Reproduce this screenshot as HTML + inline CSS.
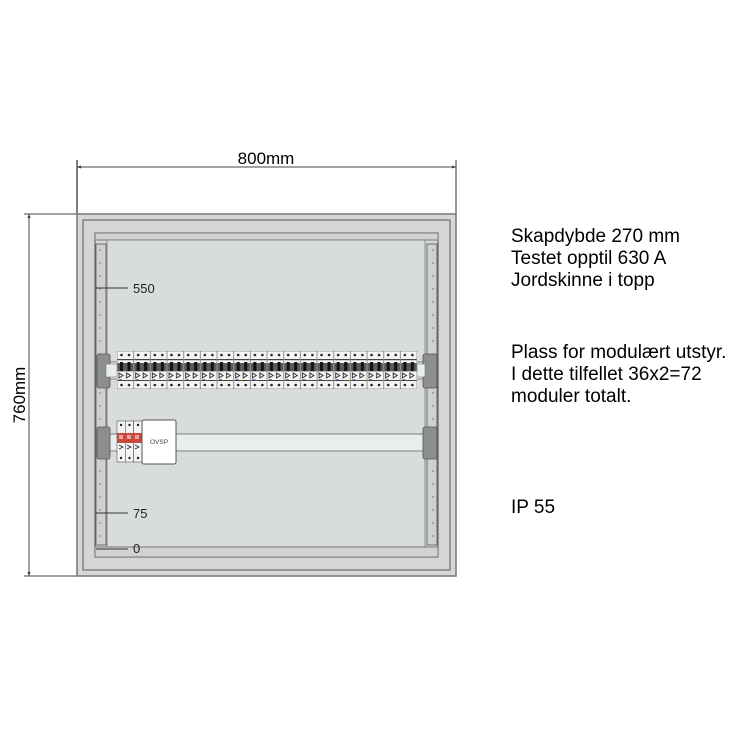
<!DOCTYPE html>
<html><head><meta charset="utf-8"><style>
html,body{margin:0;padding:0;background:#fff;width:750px;height:750px;overflow:hidden}
</style></head><body>
<svg width="750" height="750" viewBox="0 0 750 750" xmlns="http://www.w3.org/2000/svg" font-family="Liberation Sans, Arial, sans-serif">
<defs>
<pattern id="mod" x="117" y="351" width="16.67" height="38" patternUnits="userSpaceOnUse">
  <rect x="0" y="0" width="16.67" height="38" fill="#f4f4f4" stroke="#555" stroke-width="0.6"/>
  <rect x="0.5" y="8" width="15.7" height="1.2" fill="#444"/>
  <circle cx="4.5" cy="4" r="1.3" fill="#222"/><circle cx="12" cy="4" r="1.3" fill="#222"/>
  <rect x="0.5" y="12" width="15.7" height="8" fill="#5a5a5a"/>
  <rect x="3" y="11" width="3" height="9" fill="#111"/><rect x="10.5" y="11" width="3" height="9" fill="#111"/>
  <rect x="0.5" y="20" width="15.7" height="1" fill="#bbb"/>
  <path d="M2 22 L6 24.5 L2 27 Z M9.5 22 L13.5 24.5 L9.5 27 Z" fill="none" stroke="#222" stroke-width="0.9"/>
  <rect x="2" y="28" width="3" height="0.8" fill="#3a6ecc"/>
  <rect x="0.5" y="29" width="15.7" height="1" fill="#444"/>
  <circle cx="4.5" cy="34" r="1.3" fill="#222"/><circle cx="12" cy="34" r="1.3" fill="#222"/>
</pattern>
<pattern id="holesL" x="96" y="244" width="10" height="13" patternUnits="userSpaceOnUse">
  <circle cx="4" cy="6" r="0.9" fill="#888"/>
</pattern>
<pattern id="holesR" x="427" y="244" width="10" height="13" patternUnits="userSpaceOnUse">
  <circle cx="6" cy="6" r="0.9" fill="#888"/>
</pattern>
</defs>

<line x1="77" y1="160" x2="77" y2="214" stroke="#000" stroke-width="1"/>
<line x1="456" y1="160" x2="456" y2="214" stroke="#333" stroke-width="1"/>
<line x1="77" y1="167" x2="456" y2="167" stroke="#444" stroke-width="1"/>
<path d="M77 167 l4 -1.5 v3 z M456 167 l-4 -1.5 v3 z" fill="#333"/>
<text x="266" y="164" font-size="17" text-anchor="middle" fill="#000">800mm</text>

<line x1="24" y1="214" x2="77" y2="214" stroke="#444"/>
<line x1="24" y1="576" x2="77" y2="576" stroke="#444"/>
<line x1="29" y1="214" x2="29" y2="576" stroke="#444"/>
<path d="M29 214 l-1.5 4 h3 z M29 576 l-1.5 -4 h3 z" fill="#333"/>
<text transform="translate(25,395) rotate(-90)" x="0" y="0" font-size="17" text-anchor="middle" fill="#000">760mm</text>

<rect x="77" y="214" width="379" height="362" fill="#d6d8d6" stroke="#777" stroke-width="1.5"/>
<rect x="83" y="220" width="367" height="350" fill="#d4d6d4" stroke="#555" stroke-width="1"/>
<rect x="95" y="233" width="343" height="324" fill="#d5d8d7" stroke="#555" stroke-width="1"/>
<rect x="95" y="233" width="343" height="7" fill="#d0d3d2" stroke="#666" stroke-width="0.8"/>
<rect x="107" y="240" width="318" height="307" fill="#d9dcdd" stroke="#777" stroke-width="0.8"/>
<rect x="95" y="547" width="343" height="10" fill="#d0d3d2" stroke="#666" stroke-width="0.8"/>

<rect x="96" y="244" width="10" height="301" fill="#cfd1d1" stroke="#555" stroke-width="0.8"/>
<rect x="96" y="244" width="10" height="301" fill="url(#holesL)"/>
<rect x="427" y="244" width="10" height="301" fill="#cfd1d1" stroke="#555" stroke-width="0.8"/>
<rect x="427" y="244" width="10" height="301" fill="url(#holesR)"/>

<line x1="96" y1="288" x2="128" y2="288" stroke="#333"/>
<text x="133" y="293" font-size="13" fill="#222">550</text>
<line x1="96" y1="513" x2="128" y2="513" stroke="#333"/>
<text x="133" y="518" font-size="13" fill="#222">75</text>
<line x1="96" y1="549" x2="128" y2="549" stroke="#333"/>
<text x="133" y="553" font-size="13" fill="#222">0</text>

<rect x="106" y="362" width="321" height="17" fill="#e8eded" stroke="#666" stroke-width="0.8"/>
<rect x="97" y="354" width="13" height="34" rx="2" fill="#8d8f8f" stroke="#555" stroke-width="0.8"/>
<rect x="423" y="354" width="14" height="34" rx="2" fill="#8d8f8f" stroke="#555" stroke-width="0.8"/>
<rect x="106" y="364" width="11" height="13" fill="#e8eded" stroke="#777" stroke-width="0.6"/>
<rect x="417" y="364" width="8" height="13" fill="#e8eded" stroke="#777" stroke-width="0.6"/>
<rect x="117" y="351" width="300" height="38" fill="url(#mod)"/>

<rect x="106" y="434" width="321" height="17" fill="#e8eded" stroke="#666" stroke-width="0.8"/>
<rect x="97" y="427" width="13" height="32" rx="2" fill="#8d8f8f" stroke="#555" stroke-width="0.8"/>
<rect x="423" y="427" width="14" height="32" rx="2" fill="#8d8f8f" stroke="#555" stroke-width="0.8"/>
<g stroke="#555" stroke-width="0.6">
<rect x="117" y="421" width="8.3" height="41" fill="#f4f4f4"/>
<rect x="125.3" y="421" width="8.3" height="41" fill="#f4f4f4"/>
<rect x="133.6" y="421" width="8.3" height="41" fill="#f4f4f4"/>
</g>
<rect x="117" y="433" width="25" height="10" fill="#c84a3e"/>
<rect x="119" y="435" width="4" height="4" fill="#f0a0a0"/><rect x="127" y="435" width="4" height="4" fill="#f0a0a0"/><rect x="135" y="435" width="4" height="4" fill="#f0a0a0"/>
<g fill="#222"><circle cx="121" cy="425" r="1.2"/><circle cx="129.5" cy="425" r="1.2"/><circle cx="138" cy="425" r="1.2"/>
<circle cx="121" cy="458" r="1.2"/><circle cx="129.5" cy="458" r="1.2"/><circle cx="138" cy="458" r="1.2"/></g>
<path d="M119 445 l4 2 l-4 2 M127 445 l4 2 l-4 2 M135 445 l4 2 l-4 2" fill="none" stroke="#222" stroke-width="0.8"/>
<rect x="142" y="420" width="34" height="44" rx="2" fill="#fff" stroke="#555" stroke-width="1"/>
<text x="159" y="444" font-size="6.5" text-anchor="middle" fill="#444">OVSP</text>

<g font-size="19" fill="#000">
<text x="511" y="242">Skapdybde 270 mm</text>
<text x="511" y="264">Testet opptil 630 A</text>
<text x="511" y="286">Jordskinne i topp</text>
<text x="511" y="358">Plass for modulært utstyr.</text>
<text x="511" y="380">I dette tilfellet 36x2=72</text>
<text x="511" y="402">moduler totalt.</text>
<text x="511" y="513">IP 55</text>
</g>
</svg>
</body></html>
